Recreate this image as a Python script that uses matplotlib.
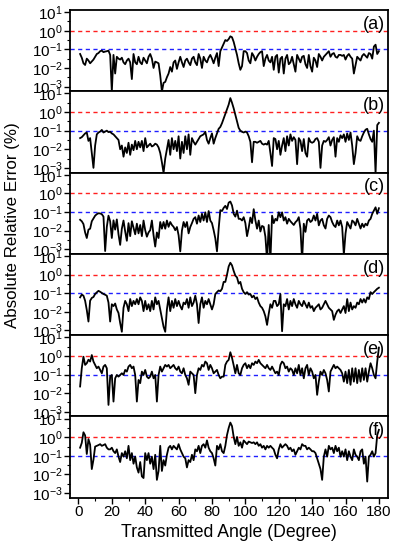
"""
Absolute relative error vs transmitted angle, six stacked log panels.
"""
import numpy as np
import matplotlib
matplotlib.use("Agg")
import matplotlib.pyplot as plt
from matplotlib.ticker import MultipleLocator, LogLocator, NullFormatter

plt.rcParams["font.family"] = ["Liberation Sans", "DejaVu Sans"]
plt.rcParams["mathtext.fontset"] = "custom"
plt.rcParams["mathtext.rm"] = "Liberation Sans"
plt.rcParams["mathtext.default"] = "rm"

angles = np.arange(1, 181)

# log10 of absolute relative error (%), one value per degree
err_a_log = [
    -1.25, -1.45, -1.75, -1.84, -1.5, -1.6, -1.75, -1.65, -1.55, -1.4,
    -1.25, -1.2, -1.1, -1.07, -1.15, -1.12, -1.1, -1.07, -1.3, -3.27,
    -1.3, -2.3, -1.4, -1.5, -1.55, -1.45, -1.7, -1.8, -1.6, -1.5,
    -1.7, -2.6, -1.25, -1.7, -1.8, -1.4, -1.7, -1.8, -1.45, -1.6,
    -1.75, -1.4, -1.25, -1.5, -2.0, -1.66, -1.7, -1.75, -2.4, -3.27,
    -2.8, -2.75, -2.5, -2.3, -1.95, -2.2, -1.7, -1.6, -2.05, -1.7,
    -1.4, -1.7, -1.95, -1.6, -1.5, -1.7, -1.85, -1.5, -1.4, -1.7,
    -1.85, -1.25, -1.5, -2.0, -1.4, -1.6, -1.7, -1.45, -1.3, -1.5,
    -1.75, -1.45, -1.2, -1.9, -1.1, -0.9, -0.7, -0.5, -0.55, -0.45,
    -0.3, -0.35, -0.6, -0.95, -1.3, -1.75, -2.1, -1.9, -1.1, -1.1,
    -1.2, -1.6, -1.75, -1.2, -1.35, -1.6, -1.4, -1.25, -1.15, -1.1,
    -1.9, -1.5, -1.3, -1.6, -1.7, -1.4, -2.1, -1.4, -1.3, -2.25,
    -1.5, -1.4, -2.3, -1.5, -1.3, -1.8, -1.7, -1.4, -1.8, -2.2,
    -1.3, -1.5, -1.7, -1.4, -1.35, -1.8, -2.0, -1.3, -1.9, -2.2,
    -1.45, -1.6, -1.95, -1.25, -1.4, -1.6, -1.4, -1.3, -1.2, -1.1,
    -1.4, -1.25, -1.2, -1.4, -1.45, -1.3, -1.3, -1.35, -1.3, -1.55,
    -1.35, -1.25, -1.4, -1.5, -2.3, -1.85, -1.4, -1.5, -1.6, -1.35,
    -1.25, -1.35, -1.45, -1.2, -1.25, -1.5, -0.85, -0.75, -1.25, -1.1,
]

err_b_log = [
    -1.4, -1.35, -1.25, -1.15, -1.1, -1.55, -1.4, -2.2, -3.0, -1.8,
    -1.2, -1.1, -1.05, -0.96, -1.1, -1.05, -1.0, -1.08, -1.06, -1.15,
    -1.2, -1.3, -1.4, -1.5, -2.0, -1.8, -2.4, -1.9, -2.2, -1.65,
    -2.3, -1.75, -2.05, -1.55, -2.0, -1.6, -1.9, -1.55, -2.1, -1.4,
    -1.9, -1.8, -1.7, -1.85, -1.8, -1.7, -1.75, -1.9, -2.2, -2.7,
    -3.27, -2.5, -2.0, -1.5, -2.3, -1.4, -2.0, -1.55, -2.1, -1.3,
    -2.5, -1.6, -2.2, -1.3, -2.0, -1.2, -2.3, -1.4, -1.6, -1.75,
    -1.6, -1.45, -1.3, -1.25, -1.2, -1.06, -1.5, -1.7, -1.4, -1.15,
    -1.7, -1.4, -1.15, -0.9, -0.8, -0.6, -0.35, -0.1, 0.15, 0.4,
    0.75, 0.5, 0.2, -0.15, -0.5, -0.85, -1.0, -1.06, -1.1, -1.05,
    -1.1, -1.3, -1.6, -2.7, -1.6, -1.6, -1.65, -1.6, -1.55, -1.7,
    -1.75, -1.7, -1.75, -1.55, -2.2, -2.9, -1.4, -1.45, -2.0, -1.55,
    -2.3, -1.8, -1.4, -2.1, -1.3, -1.8, -1.2, -1.55, -1.35, -1.5,
    -2.8, -1.4, -1.55, -2.1, -1.45, -2.2, -2.4, -1.4, -1.6, -1.65,
    -1.6, -1.45, -1.4, -1.6, -3.0, -1.8, -1.55, -1.6, -1.5, -1.35,
    -1.8, -1.5, -1.35, -2.4, -1.4, -1.6, -1.25, -1.4, -1.2, -1.6,
    -1.15, -1.5, -1.1, -1.8, -2.8, -2.2, -1.3, -1.5, -1.55, -1.3,
    -1.1, -0.95, -0.9, -1.2, -1.45, -1.6, -1.0, -3.3, -0.7, -0.58,
]

err_c_log = [
    -1.42, -1.5, -1.65, -2.1, -2.4, -1.95, -1.9, -1.5, -1.35, -1.2,
    -1.12, -1.07, -1.08, -1.12, -1.25, -3.1, -1.8, -1.2, -1.5, -2.4,
    -1.45, -1.95, -1.4, -2.2, -2.77, -1.9, -1.46, -2.05, -2.55, -1.6,
    -2.3, -1.5, -1.85, -2.2, -1.63, -2.15, -1.7, -2.3, -1.46, -1.98,
    -2.33, -2.1, -1.98, -1.46, -2.25, -2.86, -2.1, -2.4, -1.54, -1.9,
    -1.54, -1.9, -1.46, -1.8, -1.54, -1.7, -1.8, -1.98, -1.81, -2.25,
    -3.12, -2.0, -1.54, -1.81, -1.54, -2.15, -1.81, -1.6, -1.37, -1.28,
    -1.63, -1.19, -1.54, -1.1, -1.46, -1.02, -1.54, -0.95, -1.46, -1.6,
    -1.98, -2.42, -3.12, -1.9, -0.9, -0.95, -0.78, -0.67, -0.84, -0.5,
    -0.44, -0.65, -1.1, -1.25, -0.93, -1.37, -1.37, -1.46, -1.28, -1.6,
    -2.3, -1.85, -1.3, -1.6, -0.85, -1.45, -1.9, -1.46, -2.05, -1.75,
    -1.8, -2.33, -3.6, -1.7, -3.6, -1.2, -1.6, -1.37, -1.46, -1.02,
    -1.28, -1.02, -1.46, -1.28, -1.63, -1.37, -1.5, -1.6, -1.7, -1.55,
    -1.46, -1.28, -1.9, -3.6, -1.63, -2.07, -1.46, -1.37, -1.54, -1.46,
    -1.19, -1.46, -1.1, -1.72, -1.46, -1.37, -1.72, -1.89, -1.37, -1.19,
    -1.28, -1.54, -1.72, -1.81, -1.46, -1.72, -1.46, -1.81, -3.3, -2.16,
    -1.54, -1.72, -1.89, -1.46, -1.54, -1.72, -1.37, -1.63, -1.89, -1.63,
    -1.81, -1.63, -1.72, -1.46, -1.37, -1.1, -0.93, -0.75, -1.1, -0.8,
]

err_d_log = [
    -1.22, -1.07, -1.13, -1.4, -1.9, -2.52, -1.4, -1.25, -1.2, -1.04,
    -0.95, -0.87, -0.92, -0.98, -1.04, -1.08, -1.13, -1.5, -2.52, -1.59,
    -1.69, -1.55, -1.87, -2.06, -2.6, -3.07, -1.78, -1.41, -1.59, -1.96,
    -1.31, -1.69, -1.41, -1.59, -1.31, -1.59, -1.22, -1.41, -1.96, -1.41,
    -1.87, -1.59, -1.96, -1.41, -1.87, -1.22, -1.59, -1.41, -1.87, -2.33,
    -2.8, -3.07, -1.87, -1.22, -1.96, -1.41, -1.78, -1.31, -1.69, -1.41,
    -1.69, -1.87, -1.5, -1.59, -1.31, -1.78, -1.22, -1.69, -1.5, -1.13,
    -1.59, -2.6, -1.59, -1.22, -1.78, -1.41, -1.59, -1.31, -1.59, -1.87,
    -1.59, -1.04, -0.94, -0.85, -0.89, -0.76, -0.39, -0.39, 0.0, 0.44,
    0.64, 0.5, 0.2, -0.05, -0.15, -0.48, -0.39, -0.76, -0.94, -1.04,
    -0.94, -1.07, -1.04, -1.22, -1.13, -1.31, -1.22, -1.5, -1.69, -1.78,
    -1.96, -2.24, -2.7, -2.1, -1.59, -1.78, -1.41, -1.41, -1.69, -1.59,
    -1.04, -3.04, -1.59, -1.69, -1.31, -1.87, -1.41, -1.69, -1.31, -1.59,
    -1.78, -1.41, -1.59, -1.69, -1.41, -1.59, -1.78, -1.5, -1.78, -1.69,
    -1.96, -1.78, -1.69, -1.59, -1.87, -1.78, -1.59, -1.41, -1.59, -1.78,
    -1.87, -1.96, -2.43, -2.15, -1.96, -1.87, -2.06, -1.87, -1.69, -2.06,
    -1.31, -1.96, -1.5, -1.87, -1.69, -1.78, -1.5, -1.59, -1.31, -1.5,
    -1.31, -1.5, -1.22, -1.31, -0.94, -1.04, -0.94, -0.85, -0.76, -0.7,
]

err_e_log = [
    -1.64, -0.66, -0.04, -0.48, -0.39, -0.2, -0.3, 0.05, -0.3, -0.48,
    -0.66, -0.57, -0.75, -0.93, -0.57, -0.48, -0.66, -2.63, -1.11, -1.02,
    -2.45, -1.2, -1.02, -1.11, -1.02, -0.93, -1.02, -0.75, -0.84, -0.57,
    -0.48, -0.66, -0.57, -1.02, -2.45, -1.29, -1.46, -0.84, -1.02, -0.75,
    -1.11, -1.2, -1.11, -0.84, -1.2, -1.02, -2.45, -1.02, -0.57, -0.84,
    -0.66, -0.48, -0.57, -0.48, -0.66, -0.57, -0.48, -0.66, -0.75, -0.57,
    -0.84, -0.93, -0.66, -1.02, -1.2, -1.55, -0.84, -0.93, -1.02, -2.0,
    -1.02, -0.66, -0.75, -0.48, -0.57, -0.3, -0.39, -0.75, -0.48, -0.66,
    -0.93, -0.84, -0.75, -1.02, -1.2, -1.11, -1.11, -0.48, -0.3, -0.21,
    0.2, -0.1, -0.5, -0.93, -0.48, -0.93, -1.02, -0.66, -0.48, -0.39,
    -0.66, -0.48, -0.66, -0.39, -0.48, -0.3, -0.39, -0.21, -0.39, -0.48,
    -0.57, -0.66, -0.48, -0.66, -0.75, -0.57, -0.75, -0.93, -0.84, -1.02,
    -0.48, -0.3, -0.39, -0.66, -0.57, -0.84, -0.66, -0.75, -1.02, -0.66,
    -0.93, -0.48, -1.02, -0.66, -1.2, -0.66, -0.48, -1.02, -0.66, -0.84,
    -1.2, -1.02, -2.09, -1.38, -0.84, -1.02, -0.75, -0.93, -1.29, -1.91,
    -0.84, -0.66, -0.48, -0.66, -0.57, -0.66, -0.75, -0.93, -1.38, -0.84,
    -1.46, -0.75, -1.55, -0.66, -1.38, -0.66, -1.46, -0.75, -1.38, -0.66,
    -1.29, -0.66, -1.38, -0.84, -0.39, -0.66, -1.02, -1.2, -0.3, 0.45,
]

err_f_log = [
    -0.56, -0.3, 0.27, 0.1, -0.9, -0.1, -0.4, -1.71, -1.2, -0.5,
    -0.46, -0.42, -0.37, -0.46, -0.42, -0.37, -0.56, -0.65, -0.65, -0.56,
    -0.75, -0.85, -0.65, -1.04, -1.33, -0.85, -1.04, -0.75, -1.13, -0.46,
    -1.23, -0.85, -1.42, -1.04, -1.62, -1.9, -1.33, -2.1, -2.19, -0.85,
    -1.23, -0.85, -1.42, -1.04, -1.71, -0.94, -2.29, -1.81, -0.46, -1.81,
    -1.23, -1.52, -0.94, -0.56, -0.46, -0.65, -0.46, -0.56, -0.65, -0.37,
    -0.65, -0.85, -1.04, -1.13, -1.62, -1.23, -1.33, -0.94, -1.23, -0.65,
    -0.75, -0.46, -0.85, -0.46, -0.37, -0.56, -0.17, -0.56, -0.75, -0.85,
    -1.13, -1.52, -0.46, -0.65, -0.37, -0.75, -0.85, -0.46, 0.12, 0.5,
    0.79, 0.6, 0.02, -0.37, 0.02, -0.46, -0.27, -0.56, -0.17, -0.27,
    -0.37, -0.23, -0.27, -0.31, -0.27, -0.37, -0.27, -0.46, -0.37, -0.56,
    -0.46, -0.65, -0.46, -0.56, -0.46, -0.56, -0.65, -0.94, -1.13, -0.65,
    -0.37, -0.56, -0.46, -0.37, -0.46, -0.65, -0.56, -0.75, -0.65, -0.94,
    -0.75, -0.56, -0.65, -0.37, -0.46, -0.46, -0.65, -0.56, -0.65, -0.75,
    -0.75, -0.85, -1.13, -1.42, -1.71, -2.29, -1.04, -0.65, -1.04, -0.46,
    -0.65, -0.56, -0.85, -0.46, -0.75, -0.56, -1.04, -0.75, -1.04, -0.65,
    -1.23, -0.75, -1.04, -1.23, -0.65, -0.94, -1.04, -1.23, -0.75, -0.65,
    -1.42, -1.04, -2.38, -1.04, -0.94, -0.75, -1.04, -0.85, 0.12, 0.4,
]

panel_labels = ["(a)", "(b)", "(c)", "(d)", "(e)", "(f)"]
series = [err_a_log, err_b_log, err_c_log, err_d_log, err_e_log, err_f_log]

fig, axes = plt.subplots(6, 1, figsize=(3.96, 5.5), dpi=100, sharex=True)
fig.subplots_adjust(left=0.177, right=0.98, top=0.982, bottom=0.095, hspace=0)

for ax, lab, vals in zip(axes, panel_labels, series):
    ax.set_yscale("log")
    ax.axhline(1.0, color="#ff2020", ls=(0, (3, 2.5)), lw=1.0)
    ax.axhline(0.1, color="#2020ff", ls=(0, (3, 2.5)), lw=1.0)
    ax.plot(angles, 10 ** np.array(vals), color="black", lw=1.3)
    ax.set_xlim(-5, 185.5)
    ax.set_ylim(10 ** -3.25, 10 ** 1.12)
    ax.yaxis.set_major_locator(LogLocator(base=10, numticks=10))
    ax.yaxis.set_minor_locator(LogLocator(base=10, subs=[3.16], numticks=10))
    ax.yaxis.set_minor_formatter(NullFormatter())
    ax.xaxis.set_major_locator(MultipleLocator(20))
    ax.xaxis.set_minor_locator(MultipleLocator(10))
    ax.tick_params(axis="both", which="major", direction="out", length=4, width=1.0,
                   labelsize=11, pad=1.5)
    ax.tick_params(axis="both", which="minor", direction="out", length=2.5, width=0.8)
    for sp in ax.spines.values():
        sp.set_linewidth(1.3)
    ax.text(0.99, 0.93, lab, transform=ax.transAxes, ha="right", va="top", fontsize=13)

axes[-1].set_xlabel("Transmitted Angle (Degree)", fontsize=12.7, labelpad=3)
fig.text(0.032, 0.59, "Absolute Relative Error (%)", rotation=90,
         ha="center", va="center", fontsize=12.2)

plt.savefig("out.png", dpi=100)
plt.close()
